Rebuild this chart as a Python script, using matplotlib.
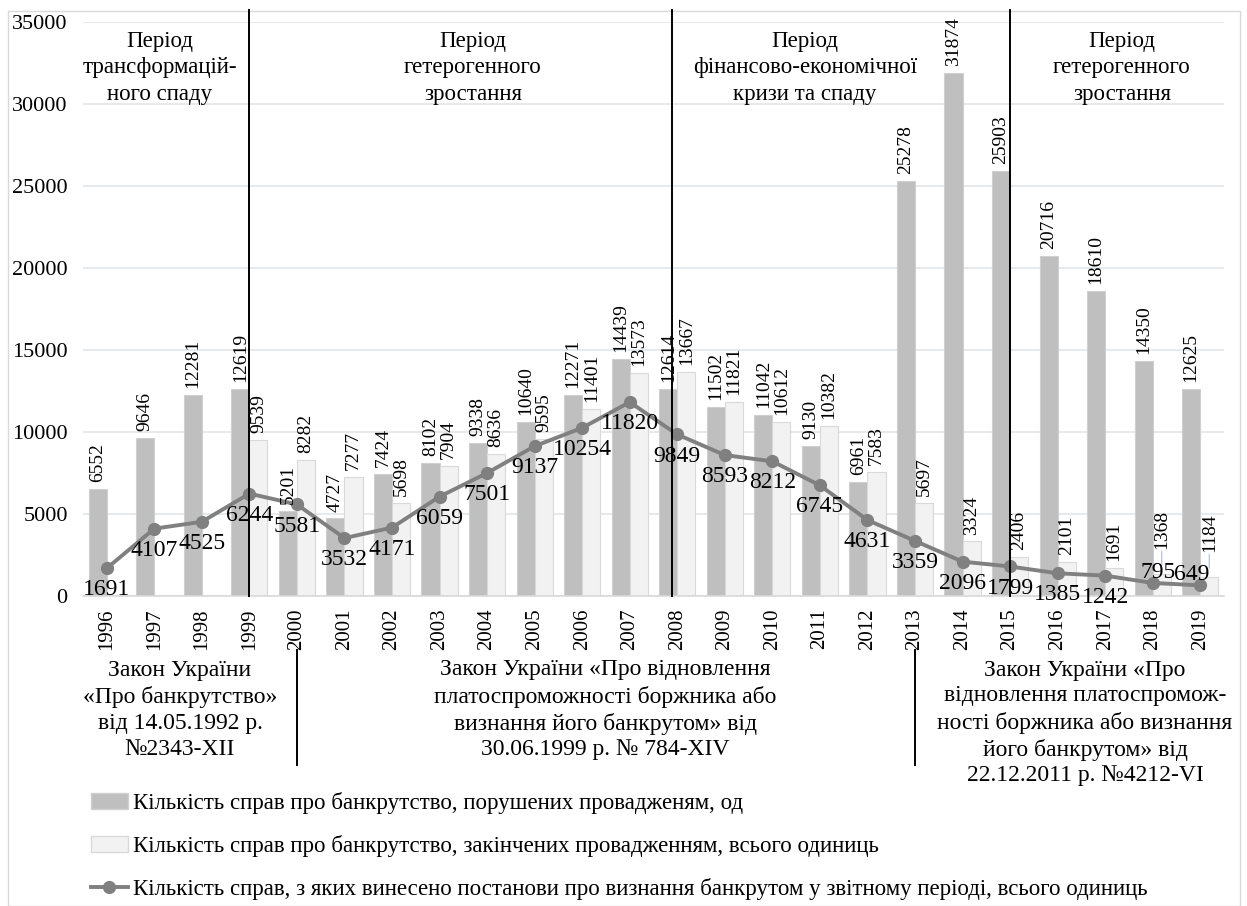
import numpy as np
import matplotlib
matplotlib.use('Agg')
import matplotlib.pyplot as plt
import matplotlib.transforms as mtransforms
from matplotlib.patches import Patch, Rectangle
from matplotlib.lines import Line2D

plt.rcParams['font.family'] = ['Liberation Serif', 'DejaVu Serif']

# ===== Дані =====
years = [str(y) for y in range(1996, 2020)]
opened = [6552, 9646, 12281, 12619, 5201, 4727, 7424, 8102, 9338, 10640, 12271, 14439,
          12614, 11502, 11042, 9130, 6961, 25278, 31874, 25903, 20716, 18610, 14350, 12625]
closed = [None, None, None, 9539, 8282, 7277, 5698, 7904, 8636, 9595, 11401, 13573,
          13667, 11821, 10612, 10382, 7583, 5697, 3324, 2406, 2101, 1691, 1368, 1184]
declared = [1691, 4107, 4525, 6244, 5581, 3532, 4171, 6059, 7501, 9137, 10254, 11820,
            9849, 8593, 8212, 6745, 4631, 3359, 2096, 1799, 1385, 1242, 795, 649]

series_names = [
    "Кількість справ про банкрутство, порушених провадженям, од",
    "Кількість справ про банкрутство, закінчених провадженням, всього одиниць",
    "Кількість справ, з яких винесено постанови про визнання банкрутом у звітному періоді, всього одиниць",
]
periods = [
    "Період\nтрансформацій-\nного спаду",
    "Період\nгетерогенного\nзростання",
    "Період\nфінансово-економічної\nкризи та спаду",
    "Період\nгетерогенного\nзростання",
]
laws = [
    "Закон України\n«Про банкрутство»\nвід 14.05.1992 р.\n№2343-XII",
    "Закон України «Про відновлення\nплатоспроможності боржника або\nвизнання його банкрутом» від\n30.06.1999 р. № 784-XIV",
    "Закон України «Про\nвідновлення платоспромож-\nності боржника або визнання\nйого банкрутом» від\n22.12.2011 р. №4212-VI",
]

# ===== Кольори =====
c_dark = '#bfbfbf'
c_light = '#f2f2f2'
c_line = '#808080'
c_grid = '#e3e6ea'

W, H = 1247, 906
fig = plt.figure(figsize=(W / 100, H / 100), dpi=100)
ax = fig.add_axes([83 / W, 1 - 596 / H, (1224 - 83) / W, (596 - 22) / H])

x = np.arange(len(years))
bw = 0.38
closed_vals = np.array([np.nan if v is None else v for v in closed], dtype=float)

ax.bar(x - bw / 2, opened, bw, color=c_dark, edgecolor='#d0d0d0', linewidth=0.8, zorder=2)
ax.bar(x + bw / 2, closed_vals, bw, color=c_light, edgecolor='#d9d9d9', linewidth=0.8, zorder=2)
ax.plot(x, declared, color=c_line, linewidth=2.8, marker='o', markersize=8.5, zorder=4)

ax.set_xlim(-0.5, len(years) - 0.5)
ax.set_ylim(0, 35000)
ax.set_yticks(np.arange(0, 35001, 5000))
ax.set_xticks(x)
ax.set_xticklabels(years, rotation=90, fontsize=15)
ax.tick_params(axis='y', labelsize=16, length=0, pad=11)
ax.tick_params(axis='x', length=0, pad=9)
ax.yaxis.grid(True, color=c_grid, linewidth=1.2)
ax.set_axisbelow(True)
for s in ['left', 'right', 'top']:
    ax.spines[s].set_visible(False)
ax.spines['bottom'].set_color('#d9d9d9')
ax.spines['bottom'].set_linewidth(1.2)

# ===== Підписи даних =====
for i, v in enumerate(opened):
    ax.annotate(str(v), (x[i] - bw / 2, v), xytext=(0, 5), textcoords='offset points',
                rotation=90, ha='center', va='bottom', fontsize=14, zorder=5)
for i, v in enumerate(closed):
    if v is None:
        continue
    if years[i] in ('2018', '2019'):
        # підписи підняті над лінією, з виносками
        ax.annotate(str(v), (x[i] + bw / 2, v), xytext=(0, 18), textcoords='offset points',
                    rotation=90, ha='center', va='bottom', fontsize=14, zorder=5,
                    arrowprops=dict(arrowstyle='-', color='#a9bbd3', lw=0.8,
                                    shrinkA=0, shrinkB=6))
    else:
        ax.annotate(str(v), (x[i] + bw / 2, v), xytext=(0, 5), textcoords='offset points',
                    rotation=90, ha='center', va='bottom', fontsize=14, zorder=5)
for i, v in enumerate(declared):
    if years[i] == '2018':
        ax.annotate(str(v), (x[i], v), xytext=(4, 0), textcoords='offset points',
                    ha='center', va='bottom', fontsize=17, zorder=6)
    elif years[i] == '2019':
        ax.annotate(str(v), (x[i], v), xytext=(-6, 0), textcoords='offset points',
                    ha='center', va='bottom', fontsize=17, zorder=6)
    else:
        ax.annotate(str(v), (x[i], v), xytext=(0, -8), textcoords='offset points',
                    ha='center', va='top', fontsize=17, zorder=6)

# ===== Межі періодів =====
trans = mtransforms.blended_transform_factory(ax.transData, fig.transFigure)
for xv in [3, 11.88, 19]:
    fig.add_artist(Line2D([xv, xv], [1 - 596 / H, 1 - 10 / H], transform=trans,
                          color='black', linewidth=1.4))
for xv in [4, 17]:
    fig.add_artist(Line2D([xv, xv], [1 - 650 / H, 1 - 765 / H], transform=trans,
                          color='black', linewidth=1.4))

for txt, px in zip(periods, [160, 473, 805, 1122]):
    fig.text(px / W, 1 - 68 / H, txt, ha='center', va='center', fontsize=16.5,
             linespacing=1.34)
for txt, px, py in zip(laws, [180, 605, 1085], [710, 710, 723]):
    fig.text(px / W, 1 - py / H, txt, ha='center', va='center', fontsize=17,
             linespacing=1.3)

# ===== Легенда =====
handles = [
    Patch(facecolor=c_dark, edgecolor='#d0d0d0'),
    Patch(facecolor=c_light, edgecolor='#d9d9d9'),
    Line2D([], [], color=c_line, linewidth=2.8, marker='o', markersize=8.5),
]
fig.legend(handles, series_names, loc='upper left', bbox_to_anchor=(91 / W, 1 - 792 / H),
           frameon=False, fontsize=16.5, handlelength=1.6, handletextpad=0.25,
           labelspacing=0.92, borderpad=0, borderaxespad=0)

fig.add_artist(Rectangle((8 / W, 0), (1240 - 8) / W, 1 - 11 / H, transform=fig.transFigure,
                         fill=False, edgecolor='#d9d9d9', linewidth=1))

fig.savefig('out.png', dpi=100)
